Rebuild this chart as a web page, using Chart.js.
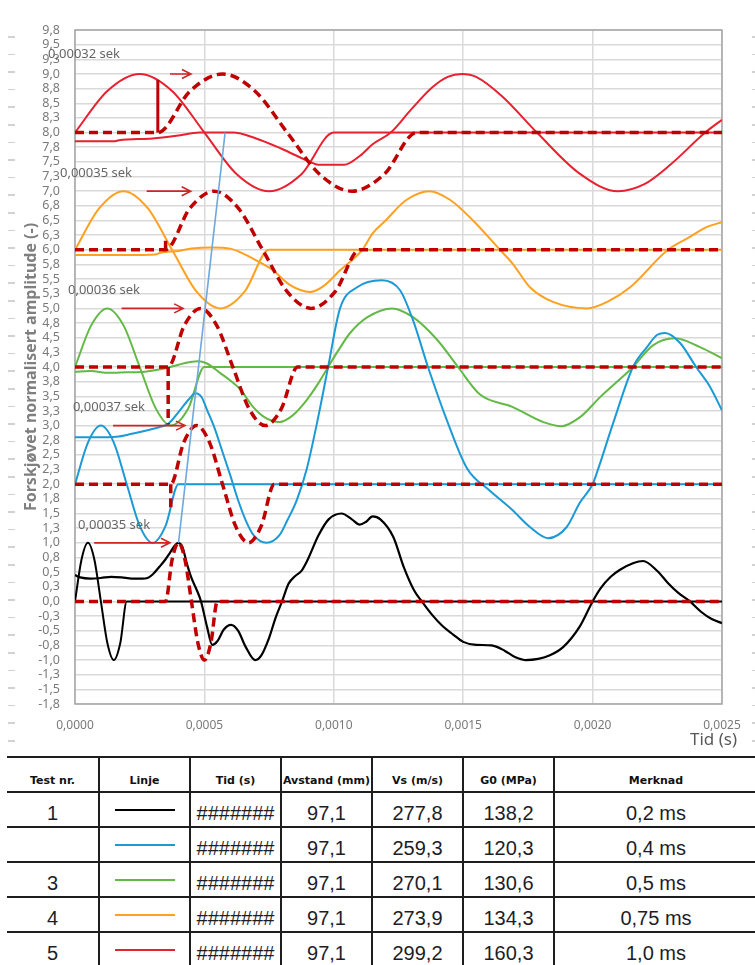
<!DOCTYPE html>
<html>
<head>
<meta charset="utf-8">
<script src="https://cdn.jsdelivr.net/npm/chart.js@4.4.0/dist/chart.umd.min.js"></script>
<style>
  html, body { margin: 0; padding: 0; background: #fff; }
  body { width: 755px; height: 965px; position: relative; overflow: hidden; font-family: "Liberation Sans", Arial, sans-serif; }
  #wrap { position: absolute; left: 0; top: 0; width: 755px; height: 750px; }
  .marks { position: absolute; top: 36px; height: 706px;
    background: repeating-linear-gradient(to bottom, #d2d2d2 0, #d2d2d2 1.5px, transparent 1.5px, transparent 17.6px); }
  #tbl { position: absolute; left: 7px; top: 756px; display: grid;
    grid-template-columns: 91px 91px 91px 91px 91px 91px 204px; grid-auto-rows: 35px; }
  #tbl div { box-sizing: border-box; border-top: 2px solid #1e1e1e; border-left: 2px solid #1e1e1e;
    display: flex; justify-content: center; align-items: flex-end; overflow: hidden; white-space: nowrap;
    font-size: 20px; line-height: 22px; padding-bottom: 2px; color: #1d1d28; }
  #tbl div.first { border-left: none; }
  #tbl div.hd { font-family: "DejaVu Sans", sans-serif; font-weight: bold; font-size: 11px; line-height: 13px; padding-bottom: 4px; color: #111; }
  #tbl div.ln { align-items: center; padding-bottom: 0; padding-top: 1px; }
  #tbl span.sw { display: block; width: 60px; height: 2px; }
</style>
</head>
<body>
<div class="marks" style="left:8px; width:7px;"></div>
<div class="marks" style="left:752px; width:4px;"></div>
<div id="wrap"><canvas id="c" width="755" height="750"></canvas></div>
<div id="tbl"></div>
<script>
// tid i ms, amplitude forskjøvet
const blackIn = [[0,0],[0.025,0.71],[0.05,1],[0.075,0.71],[0.1,0],[0.125,-0.71],[0.15,-1],[0.175,-0.71],[0.2,0],[2.5,0]];
const blackRx = [[0,0.45],[0.02,0.41],[0.06,0.39],[0.10,0.40],[0.14,0.42],[0.18,0.41],[0.22,0.39],[0.26,0.39],[0.28,0.40],
  [0.30,0.46],[0.328,0.60],[0.35,0.72],[0.367,0.83],[0.385,0.95],[0.398,1.0],[0.415,0.93],[0.432,0.65],[0.45,0.40],
  [0.47,0.2],[0.487,0.0],[0.51,-0.43],[0.53,-0.74],[0.55,-0.68],[0.575,-0.48],[0.603,-0.40],[0.63,-0.50],[0.66,-0.78],
  [0.696,-1.0],[0.72,-0.92],[0.75,-0.62],[0.775,-0.28],[0.80,0.0],[0.825,0.3],[0.85,0.43],[0.875,0.52],[0.90,0.72],
  [0.94,1.12],[0.98,1.40],[1.03,1.50],[1.07,1.40],[1.10,1.31],[1.125,1.36],[1.15,1.45],[1.18,1.40],[1.23,1.10],
  [1.27,0.59],[1.31,0.19],[1.34,0.0],[1.38,-0.23],[1.42,-0.42],[1.46,-0.56],[1.50,-0.69],[1.55,-0.74],[1.61,-0.75],
  [1.66,-0.84],[1.70,-0.95],[1.74,-1.0],[1.79,-0.98],[1.835,-0.92],[1.886,-0.78],[1.95,-0.43],[2.0,0.0],[2.03,0.22],
  [2.07,0.42],[2.106,0.54],[2.156,0.65],[2.195,0.69],[2.25,0.52],[2.29,0.32],[2.33,0.15],[2.376,0.0],[2.42,-0.18],
  [2.46,-0.30],[2.5,-0.37]];
const blackShift = [[0,0],[0.35,0],[0.375,0.71],[0.40,1],[0.425,0.71],[0.45,0],[0.475,-0.71],[0.50,-1],[0.525,-0.71],[0.55,0],[2.5,0]];

const blueIn = [[0,2],[0.05,2.71],[0.1,3],[0.15,2.71],[0.2,2],[0.25,1.29],[0.3,1],[0.35,1.29],[0.4,2],[2.5,2]];
const blueRx = [[0,2.80],[0.08,2.80],[0.16,2.81],[0.22,2.86],[0.28,2.92],[0.33,2.98],[0.36,3.03],[0.40,3.23],[0.44,3.45],
  [0.465,3.55],[0.49,3.48],[0.51,3.27],[0.54,2.95],[0.57,2.55],[0.60,2.15],[0.63,1.73],[0.66,1.38],[0.69,1.13],[0.74,1.0],
  [0.79,1.13],[0.82,1.38],[0.857,1.73],[0.896,2.27],[0.94,3.15],[0.978,4.0],[1.024,5.0],[1.09,5.36],[1.186,5.48],
  [1.256,5.31],[1.306,4.8],[1.364,4.0],[1.437,3.09],[1.515,2.27],[1.60,1.90],[1.69,1.56],[1.758,1.27],[1.828,1.08],
  [1.90,1.27],[1.95,1.68],[2.0,2.0],[2.02,2.24],[2.08,3.05],[2.156,4.0],[2.21,4.34],[2.25,4.55],[2.28,4.58],
  [2.338,4.41],[2.40,4.0],[2.454,3.66],[2.5,3.26]];
const blueShift = [[0,2],[0.37,2],[0.42,2.71],[0.47,3],[0.52,2.71],[0.57,2],[0.62,1.29],[0.67,1],[0.72,1.29],[0.77,2],[2.5,2]];

const greenIn = [[0,4],[0.0625,4.71],[0.125,5],[0.1875,4.71],[0.25,4],[0.3125,3.29],[0.37,3],[0.4375,3.29],[0.5,4],[2.5,4]];
const greenRx = [[0,3.92],[0.06,3.93],[0.13,3.90],[0.20,3.91],[0.27,3.92],[0.34,3.97],[0.40,4.04],[0.44,4.08],[0.475,4.10],
  [0.51,4.06],[0.56,3.90],[0.60,3.77],[0.638,3.62],[0.688,3.32],[0.73,3.15],[0.79,3.06],[0.84,3.17],[0.896,3.44],
  [0.94,3.72],[0.978,4.0],[1.02,4.3],[1.063,4.58],[1.13,4.85],[1.225,5.0],[1.306,4.85],[1.40,4.46],[1.48,4.0],
  [1.565,3.53],[1.69,3.32],[1.81,3.06],[1.88,2.99],[1.95,3.14],[2.03,3.49],[2.156,4.0],[2.233,4.37],[2.318,4.49],
  [2.415,4.34],[2.5,4.15]];
const greenShift = [[0,4],[0.36,4],[0.4225,4.71],[0.485,5],[0.5475,4.71],[0.61,4],[0.6725,3.29],[0.735,3],[0.7975,3.29],[0.86,4],[2.5,4]];

const orangeIn = [[0,6],[0.094,6.71],[0.1875,7],[0.281,6.71],[0.375,6],[0.469,5.29],[0.5625,5],[0.656,5.29],[0.75,6],[2.5,6]];
const orangeRx = [[0,5.91],[0.10,5.91],[0.20,5.91],[0.31,5.92],[0.33,5.95],[0.40,5.98],[0.45,6.02],[0.53,6.04],[0.60,6.02],
  [0.638,5.96],[0.70,5.82],[0.765,5.65],[0.83,5.40],[0.908,5.28],[0.96,5.38],[1.024,5.65],[1.11,6.0],[1.15,6.28],
  [1.2,6.5],[1.28,6.85],[1.37,7.0],[1.45,6.85],[1.538,6.5],[1.642,6.0],[1.69,5.77],[1.758,5.36],[1.847,5.11],
  [1.978,5.0],[2.06,5.12],[2.145,5.36],[2.291,6.0],[2.376,6.22],[2.442,6.39],[2.5,6.47]];
const orangeShift = [[0,6],[0.35,6],[0.444,6.71],[0.5375,7],[0.631,6.71],[0.725,6],[0.819,5.29],[0.9125,5],[1.006,5.29],[1.1,6],[2.5,6]];

const redIn = [[0,8],[0.125,8.71],[0.25,9],[0.375,8.71],[0.5,8],[0.625,7.29],[0.75,7],[0.875,7.29],[1.0,8],[2.5,8]];
const redRx = [[0,7.85],[0.15,7.85],[0.17,7.87],[0.30,7.9],[0.40,7.95],[0.48,8.0],[0.61,8.0],[0.70,7.9],[0.80,7.72],
  [0.908,7.5],[0.94,7.45],[1.04,7.45],[1.10,7.6],[1.15,7.8],[1.22,8.0],[1.30,8.4],[1.383,8.78],[1.44,8.95],[1.495,9.0],
  [1.55,8.95],[1.65,8.62],[1.785,8.0],[1.95,7.3],[2.098,7.0],[2.2,7.12],[2.3,7.45],[2.435,8.0],[2.5,8.22]];
const redShift = [[0,8],[0.32,8],[0.445,8.71],[0.57,9],[0.695,8.71],[0.82,8],[0.945,7.29],[1.07,7],[1.195,7.29],[1.32,8],[2.5,8]];

const velocityLine = [[0.40,1.0],[0.58,8.0]];

// markering ved tidsforskyvning (ms), fra grunnlinje til inngangssignal
const markerT = [0.35, 0.37, 0.36, 0.35, 0.32];
const markerBase = [0, 2, 4, 6, 8];
const markerTop = [0, 1.55, 3.02, 6.21, 8.9];

// piler og tekster
const arrowFrom = [0.074, 0.147, 0.18, 0.277, 0.367];
const arrowTo = [0.367, 0.425, 0.418, 0.447, 0.448];
const arrowY = [1, 3, 5, 7, 9];
const shiftLabels = ['0,00035 sek', '0,00037 sek', '0,00036 sek', '0,00035 sek', '0,00032 sek'];
const labelT = [0.012, -0.008, -0.027, -0.058, -0.104];
const labelY = [1.3, 3.32, 5.31, 7.31, 9.34];

// tabell
const testNr = ['1', '', '3', '4', '5'];
const lineColors = ['#000000', '#1b9ad6', '#63b946', '#ffa020', '#e8202f'];
const tidTxt = ['#######', '#######', '#######', '#######', '#######'];
const avstand = ['97,1', '97,1', '97,1', '97,1', '97,1'];
const vs = ['277,8', '259,3', '270,1', '273,9', '299,2'];
const g0 = ['138,2', '120,3', '130,6', '134,3', '160,3'];
const merknad = ['0,2 ms', '0,4 ms', '0,5 ms', '0,75 ms', '1,0 ms'];

const DARKRED = '#c00000';
const toXY = pts => pts.map(p => ({ x: p[0] / 1000, y: p[1] }));

function solid(pts, color, w) {
  return { data: toXY(pts), borderColor: color, borderWidth: w || 2, pointRadius: 0, fill: false,
    cubicInterpolationMode: 'monotone', order: 3 };
}
function dashed(pts) {
  return { data: toXY(pts), borderColor: DARKRED, borderWidth: 3.5, borderDash: [9, 5], pointRadius: 0,
    fill: false, cubicInterpolationMode: 'monotone', order: 1 };
}

let datasets = [
  solid(blackIn, '#000000', 2), solid(blackRx, '#000000', 2.2), dashed(blackShift),
  solid(blueIn, lineColors[1]), solid(blueRx, lineColors[1]), dashed(blueShift),
  solid(greenIn, lineColors[2]), solid(greenRx, lineColors[2]), dashed(greenShift),
  solid(orangeIn, lineColors[3]), solid(orangeRx, lineColors[3]), dashed(orangeShift),
  solid(redIn, lineColors[4]), solid(redRx, lineColors[4]), dashed(redShift),
];
markerT.forEach((t, i) => {
  datasets.push({
    data: toXY([[t, markerBase[i]], [t, markerTop[i]]]),
    borderColor: DARKRED, borderWidth: i === 4 ? 3 : 3.5, borderDash: i === 4 ? [] : [9, 5],
    pointRadius: 0, tension: 0, order: 1
  });
});
datasets.push({ data: toXY(velocityLine), borderColor: '#6fa8dc', borderWidth: 1.6, pointRadius: 0, tension: 0, order: 0 });

const fmt = (v, d) => v.toFixed(d).replace('.', ',');

const overlay = {
  id: 'overlay',
  beforeDatasetsDraw(chart) {
    const { ctx, chartArea: a } = chart;
    ctx.save();
    ctx.strokeStyle = '#a6a6a6';
    ctx.lineWidth = 1.5;
    ctx.strokeRect(a.left, a.top, a.right - a.left, a.bottom - a.top);
    ctx.restore();
  },
  afterDatasetsDraw(chart) {
    const { ctx, scales: { x, y } } = chart;
    ctx.save();
    // piler
    ctx.strokeStyle = '#d02525';
    ctx.lineWidth = 1.6;
    arrowY.forEach((v, i) => {
      const x0 = x.getPixelForValue(arrowFrom[i] / 1000);
      const x1 = x.getPixelForValue(arrowTo[i] / 1000);
      const py = y.getPixelForValue(v);
      ctx.beginPath();
      ctx.moveTo(x0, py); ctx.lineTo(x1, py);
      ctx.moveTo(x1 - 9, py - 4.5); ctx.lineTo(x1, py); ctx.lineTo(x1 - 9, py + 4.5);
      ctx.stroke();
    });
    // tekster
    ctx.fillStyle = '#666666';
    ctx.font = '13px "Noto Sans"';
    ctx.textAlign = 'left';
    ctx.textBaseline = 'middle';
    shiftLabels.forEach((s, i) => {
      ctx.fillText(s, x.getPixelForValue(labelT[i] / 1000), y.getPixelForValue(labelY[i]));
    });
    ctx.restore();
  },
  afterDraw(chart) {
    const { ctx, chartArea: a } = chart;
    ctx.save();
    ctx.fillStyle = '#7f7f7f';
    ctx.font = 'bold 16px "Noto Sans"';
    ctx.textAlign = 'center';
    ctx.textBaseline = 'middle';
    ctx.translate(31, (a.top + a.bottom) / 2);
    ctx.rotate(-Math.PI / 2);
    ctx.fillText('Forskjøvet normalisert amplitude (-)', 0, 0);
    ctx.restore();
    ctx.save();
    ctx.fillStyle = '#595959';
    ctx.font = '17px "Noto Sans"';
    ctx.textAlign = 'right';
    ctx.textBaseline = 'middle';
    ctx.fillText('Tid (s)', 737, 740);
    ctx.restore();
  }
};

new Chart(document.getElementById('c'), {
  type: 'line',
  data: { datasets },
  options: {
    responsive: false,
    animation: false,
    devicePixelRatio: 1,
    layout: { padding: { top: 30, right: 33, left: 0, bottom: 0 } },
    plugins: { legend: { display: false }, tooltip: { enabled: false } },
    scales: {
      x: {
        type: 'linear', min: 0, max: 0.0025,
        afterFit: s => { s.height = 46; },
        grid: { color: '#d9d9d9', lineWidth: 1.5, drawTicks: false },
        border: { display: false },
        ticks: { stepSize: 0.0005, padding: 14, maxRotation: 0, color: '#7a7a7a',
          font: { family: 'Noto Sans', size: 12 }, callback: v => fmt(v, 4) }
      },
      y: {
        type: 'linear', min: -1.75, max: 9.75,
        afterFit: s => { s.width = 75; },
        grid: { color: '#d9d9d9', lineWidth: 1.5, drawTicks: false },
        border: { display: false },
        ticks: { stepSize: 0.25, autoSkip: false, padding: 15, color: '#7a7a7a',
          font: { family: 'Noto Sans', size: 12.5 }, callback: v => fmt(v, 1) }
      }
    }
  },
  plugins: [overlay]
});

// tabell under diagrammet
const tbl = document.getElementById('tbl');
function cell(html, cls) {
  const d = document.createElement('div');
  if (cls) d.className = cls;
  d.innerHTML = html;
  tbl.appendChild(d);
}
['Test nr.', 'Linje', 'Tid (s)', 'Avstand (mm)', 'Vs (m/s)', 'G0 (MPa)', 'Merknad'].forEach((h, i) => {
  cell(h, 'hd' + (i === 0 ? ' first' : ''));
});
testNr.forEach((n, i) => {
  cell(n, 'first');
  cell('<span class="sw" style="background:' + lineColors[i] + '"></span>', 'ln');
  cell(tidTxt[i]);
  cell(avstand[i]);
  cell(vs[i]);
  cell(g0[i]);
  cell(merknad[i]);
});
</script>
</body>
</html>
